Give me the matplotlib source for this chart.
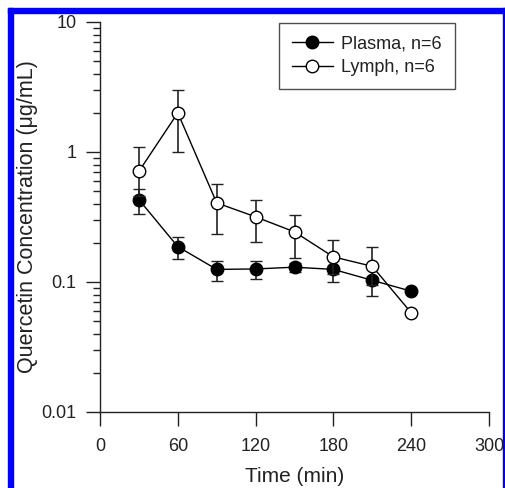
import matplotlib
matplotlib.use("Agg")
import matplotlib.pyplot as plt
import numpy as np
from matplotlib.lines import Line2D
from matplotlib.patches import Rectangle
from matplotlib.ticker import FixedLocator, FixedFormatter

plt.rcParams["font.family"] = ["Liberation Sans", "DejaVu Sans"]

# sampling times (min)
time_min = [30, 60, 90, 120, 150, 180, 210, 240]

# plasma mean and error-bar ends (ug/mL)
plasma = [0.43, 0.187, 0.125, 0.126, 0.130, 0.125, 0.103, 0.085]
plasma_hi = [0.52, 0.223, 0.146, 0.146, 0.140, 0.152, 0.134, 0.085]
plasma_lo = [0.336, 0.151, 0.101, 0.105, 0.120, 0.100, 0.078, 0.085]

# lymph mean and error-bar ends (ug/mL)
lymph = [0.71, 2.0, 0.406, 0.317, 0.243, 0.156, 0.132, 0.058]
lymph_hi = [1.1, 3.0, 0.57, 0.43, 0.33, 0.212, 0.185, 0.058]
lymph_lo = [0.46, 1.0, 0.235, 0.204, 0.152, 0.115, 0.094, 0.058]

x_ticks = [0, 60, 120, 180, 240, 300]
y_ticks = [0.01, 0.1, 1, 10]
y_ticklabels = ["0.01", "0.1", "1", "10"]
series_labels = ["Plasma, n=6", "Lymph, n=6"]

fig = plt.figure(figsize=(5.05, 4.88), dpi=100)
ax = fig.add_axes([100 / 505, 1 - 412 / 488, 389 / 505, 390 / 488])

ink = "#222222"
common = dict(color="black", lw=1.0, ms=9, mec="black", mew=1.0,
              ecolor=ink, elinewidth=1.2, capsize=4, capthick=1.2)

p = np.array(plasma)
ax.errorbar(time_min, plasma,
            yerr=[p - np.array(plasma_lo), np.array(plasma_hi) - p],
            marker="o", mfc="black", zorder=3, **common)
l = np.array(lymph)
ax.errorbar(time_min, lymph,
            yerr=[l - np.array(lymph_lo), np.array(lymph_hi) - l],
            marker="o", mfc="white", zorder=4, **common)

ax.set_yscale("log")
ax.set_ylim(0.01, 10)
ax.set_xlim(0, 300)
ax.set_xticks(x_ticks)
ax.yaxis.set_major_locator(FixedLocator(y_ticks))
ax.yaxis.set_major_formatter(FixedFormatter(y_ticklabels))

for s in ("top", "right"):
    ax.spines[s].set_visible(False)
for s in ("left", "bottom"):
    ax.spines[s].set_color(ink)
    ax.spines[s].set_linewidth(1.0)

ax.tick_params(axis="both", which="major", direction="out", length=10,
               width=1.0, color=ink, labelsize=13, labelcolor=ink)
ax.tick_params(axis="y", which="minor", direction="out", length=5,
               width=1.0, color=ink)
ax.tick_params(axis="y", which="major", pad=7)
ax.tick_params(axis="x", which="major", pad=9)

ax.set_xlabel("Time (min)", fontsize=15, color=ink, labelpad=8)
ax.set_ylabel("Quercetin Concentration (\u03bcg/mL)", fontsize=15.5,
              color=ink, labelpad=2)

handles = [
    Line2D([], [], color="black", lw=1.0, marker="o", ms=9, mfc="black", mec="black"),
    Line2D([], [], color="black", lw=1.0, marker="o", ms=9, mfc="white", mec="black"),
]
leg = ax.legend(handles, series_labels, loc="upper left",
                bbox_to_anchor=(279 / 505, 1 - 23 / 488),
                bbox_transform=fig.transFigure, borderaxespad=0,
                fancybox=False, frameon=True, fontsize=13,
                handlelength=2.3, handletextpad=0.45, borderpad=0.7,
                labelspacing=0.35)
leg.get_frame().set_edgecolor(ink)
leg.get_frame().set_linewidth(1.0)
for t in leg.get_texts():
    t.set_color(ink)

# blue frame fragments visible around the original figure
blue = "#0000ff"
fig.patches.append(Rectangle((8 / 505, 1 - 13 / 488), 497 / 505, 5 / 488,
                             transform=fig.transFigure, color=blue))
fig.patches.append(Rectangle((8 / 505, 0), 5 / 505, 1 - 8 / 488,
                             transform=fig.transFigure, color=blue))
fig.patches.append(Rectangle((503 / 505, 0), 2 / 505, 1 - 8 / 488,
                             transform=fig.transFigure, color=blue))

fig.savefig("out.png", dpi=100)
